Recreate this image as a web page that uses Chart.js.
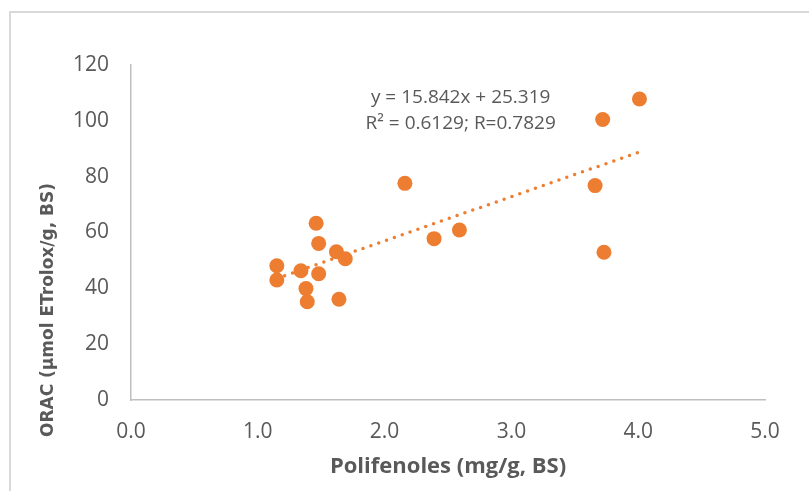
<!DOCTYPE html>
<html>
<head>
<meta charset="utf-8">
<script src="https://cdn.jsdelivr.net/npm/chart.js@4.4.1/dist/chart.umd.min.js"></script>
<style>
  html, body { margin: 0; padding: 0; background: #fff; }
  #wrap { position: relative; width: 809px; height: 491px; }
</style>
</head>
<body>
<div id="wrap"><canvas id="myChart"></canvas></div>
<script>
// Data
var polifenoles = [4.01, 3.72, 3.66, 3.73, 2.16, 2.39, 2.59, 1.46, 1.48, 1.62, 1.69, 1.15, 1.15, 1.34, 1.48, 1.38, 1.39, 1.64];
var orac = [107.8, 100.5, 76.8, 52.9, 77.6, 57.8, 60.9, 63.3, 56.1, 53.1, 50.6, 48.1, 43.0, 46.3, 45.2, 39.9, 35.2, 36.1];

// Linear trendline as printed on the chart
var slope = 15.842;
var intercept = 25.319;
var trendLabel = ['y = 15.842x + 25.319', 'R\u00B2 = 0.6129; R=0.7829'];

var xTitle = 'Polifenoles (mg/g, BS)';
var yTitle = 'ORAC (\u00B5mol ETrolox/g, BS)';

var orange = '#ED7D31';
var textGrey = '#595959';
var axisGrey = '#BFBFBF';

var points = polifenoles.map(function (x, i) { return { x: x, y: orac[i] }; });
var xMin = Math.min.apply(null, polifenoles);
var xMax = Math.max.apply(null, polifenoles);
var trend = [
    { x: xMin, y: slope * xMin + intercept },
    { x: xMax, y: slope * xMax + intercept }
];

// frame, axis titles and trendline label
var extras = {
    id: 'extras',
    beforeDraw: function (chart) {
        var c = chart.ctx;
        c.save();
        c.strokeStyle = '#D9D9D9';
        c.lineWidth = 2;
        c.strokeRect(10, 12, 1000, 1000);
        c.restore();
    },
    afterDraw: function (chart) {
        var c = chart.ctx;
        var area = chart.chartArea;
        var xs = chart.scales.x, ys = chart.scales.y;
        c.save();
        c.fillStyle = textGrey;
        c.textAlign = 'center';
        c.textBaseline = 'middle';

        // trendline equation
        c.font = '19px "Open Sans"';
        var lx = xs.getPixelForValue(2.6);
        var ly = ys.getPixelForValue(108.2);
        c.fillText(trendLabel[0], lx, ly);
        c.fillText(trendLabel[1], lx, ly + 26);

        // x title
        c.font = 'bold 22px "Open Sans"';
        c.fillText(xTitle, (area.left + area.right) / 2, 467);

        // y title
        c.translate(49, 310);
        c.rotate(-Math.PI / 2);
        c.font = 'bold 17px "DejaVu Sans"';
        c.fillText(yTitle, 0, 0);
        c.restore();
    }
};

var ctx = document.getElementById('myChart').getContext('2d');
var myChart = new Chart(ctx, {
    type: 'scatter',
    data: {
        datasets: [
            {
                label: 'ORAC',
                data: points,
                backgroundColor: orange,
                borderWidth: 0,
                pointRadius: 7.5,
                pointHoverRadius: 7.5
            },
            {
                type: 'line',
                label: 'Tendencia',
                data: trend,
                borderColor: orange,
                borderWidth: 3.5,
                borderDash: [0, 8.3],
                borderCapStyle: 'round',
                pointRadius: 0,
                fill: false
            }
        ]
    },
    options: {
        responsive: true,
        maintainAspectRatio: false,
        animation: false,
        layout: {
            padding: { left: 0, top: 65, right: 44, bottom: 0 }
        },
        plugins: {
            legend: { display: false },
            tooltip: { enabled: false }
        },
        scales: {
            x: {
                type: 'linear',
                min: 0,
                max: 5,
                afterFit: function (scale) { scale.height = 91; },
                grid: { display: false, drawTicks: false },
                border: { display: true, color: axisGrey, width: 1.5 },
                ticks: {
                    stepSize: 1,
                    padding: 19,
                    color: textGrey,
                    font: { family: 'Open Sans', size: 21 },
                    callback: function (v) { return v.toFixed(1); }
                }
            },
            y: {
                min: 0,
                max: 120,
                afterFit: function (scale) { scale.width = 131; },
                grid: { display: false, drawTicks: false },
                border: { display: true, color: axisGrey, width: 1.5 },
                ticks: {
                    stepSize: 20,
                    padding: 22,
                    color: textGrey,
                    font: { family: 'Open Sans', size: 21 }
                }
            }
        }
    },
    plugins: [extras]
});
</script>
</body>
</html>
